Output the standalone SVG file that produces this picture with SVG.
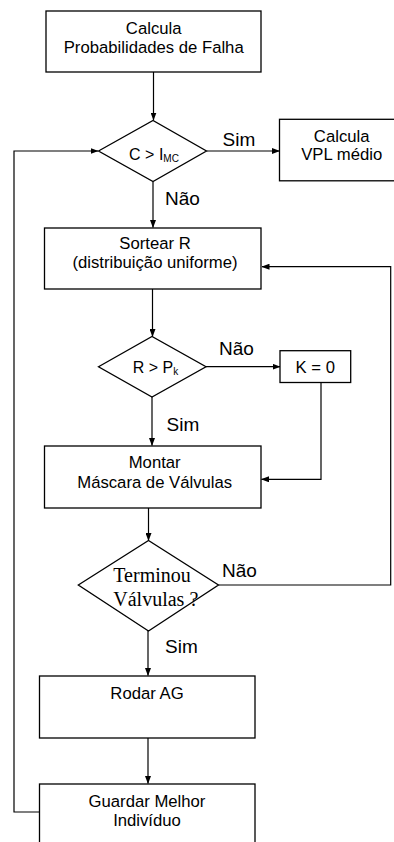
<svg xmlns="http://www.w3.org/2000/svg" width="394" height="842" viewBox="0 0 394 842">
<style>
.box{fill:#fff;stroke:#000;stroke-width:1.3}
.t{font-family:"Liberation Sans",Arial,sans-serif;font-size:16.7px;fill:#000;text-anchor:middle}
.d{font-family:"Liberation Sans",Arial,sans-serif;font-size:16px;fill:#000;text-anchor:middle}
.lbl{font-family:"Liberation Sans",Arial,sans-serif;font-size:19px;fill:#000}
.serif{font-family:"Liberation Serif","Times New Roman",serif;font-size:20px;fill:#000}
.c{fill:none;stroke:#000;stroke-width:1.2}
</style>
<defs>
<marker id="ah" markerWidth="8" markerHeight="6" refX="7.5" refY="3" orient="auto" markerUnits="userSpaceOnUse">
<path d="M0,0 L8,3 L0,6 Z" fill="#000"/>
</marker>
</defs>
<rect width="394" height="842" fill="#fff"/>
<g id="connectors">
<path class="c" d="M153.5,72 V120" marker-end="url(#ah)"/>
<path class="c" d="M206.5,151 H279.5" marker-end="url(#ah)"/>
<path class="c" d="M153,181.5 V227.5" marker-end="url(#ah)"/>
<path class="c" d="M152.5,289 V336.5" marker-end="url(#ah)"/>
<path class="c" d="M206,366.7 H280" marker-end="url(#ah)"/>
<path class="c" d="M152,397 V445.5" marker-end="url(#ah)"/>
<path class="c" d="M321,382.5 V479.3 H261.5" marker-end="url(#ah)"/>
<path class="c" d="M148.5,508 V540.5" marker-end="url(#ah)"/>
<path class="c" d="M218.5,585 H390.7 V266.7 H262" marker-end="url(#ah)"/>
<path class="c" d="M148,631 V675.5" marker-end="url(#ah)"/>
<path class="c" d="M148,738 V783.5" marker-end="url(#ah)"/>
<path class="c" d="M39.5,812 H14 V151 H98" marker-end="url(#ah)"/>
</g>
<g id="labels">
<text class="lbl" x="222.5" y="145.5">Sim</text>
<text class="lbl" x="165" y="205">Não</text>
<text class="lbl" x="219" y="355">Não</text>
<text class="lbl" x="166.5" y="430.5">Sim</text>
<text class="lbl" x="222" y="576.5">Não</text>
<text class="lbl" x="165" y="652.5">Sim</text>
</g>
<g id="calcula-prob">
<rect class="box" x="46" y="11" width="215" height="61"/>
<text class="t" x="153.7" y="34.3">Calcula</text>
<text class="t" x="153.7" y="53.3">Probabilidades de Falha</text>
</g>
<g id="dec-c">
<polygon class="box" points="98.5,151 153,120.5 206.5,151 153,181.5"/>
<text class="d" x="154" y="160">C &gt; I<tspan font-size="10" dy="2">MC</tspan></text>
</g>
<g id="calcula-vpl">
<rect class="box" x="279.5" y="119.3" width="120" height="61.5"/>
<text class="t" x="341.7" y="141.7">Calcula</text>
<text class="t" x="341.7" y="160.3">VPL médio</text>
</g>
<g id="sortear">
<rect class="box" x="44.5" y="228" width="216.5" height="61"/>
<text class="t" x="155" y="249.3">Sortear R</text>
<text class="t" x="155" y="268.3">(distribuição uniforme)</text>
</g>
<g id="dec-r">
<polygon class="box" points="98.5,366.7 152,336.5 206,366.7 152,397"/>
<text class="d" x="155.5" y="372.7">R &gt; P<tspan font-size="10" dy="2">k</tspan></text>
</g>
<g id="k0">
<rect class="box" x="280" y="350.7" width="70.7" height="31.8"/>
<text class="t" x="315.3" y="372.7">K = 0</text>
</g>
<g id="montar">
<rect class="box" x="44.5" y="446" width="216.5" height="62"/>
<text class="t" x="154.7" y="468.3">Montar</text>
<text class="t" x="154.7" y="488.3">Máscara de Válvulas</text>
</g>
<g id="dec-terminou">
<polygon class="box" points="78.3,585 148.5,540.5 218.5,585 148.5,631"/>
<text class="serif" x="113.3" y="581.7">Terminou</text>
<text class="serif" x="113.3" y="605.7">Válvulas ?</text>
</g>
<g id="rodar">
<rect class="box" x="39.5" y="676" width="215.5" height="62"/>
<text class="t" x="147" y="699">Rodar AG</text>
</g>
<g id="guardar">
<rect class="box" x="39.5" y="784" width="215.5" height="70"/>
<text class="t" x="147" y="806.7">Guardar Melhor</text>
<text class="t" x="147" y="825.7">Indivíduo</text>
</g>
</svg>
